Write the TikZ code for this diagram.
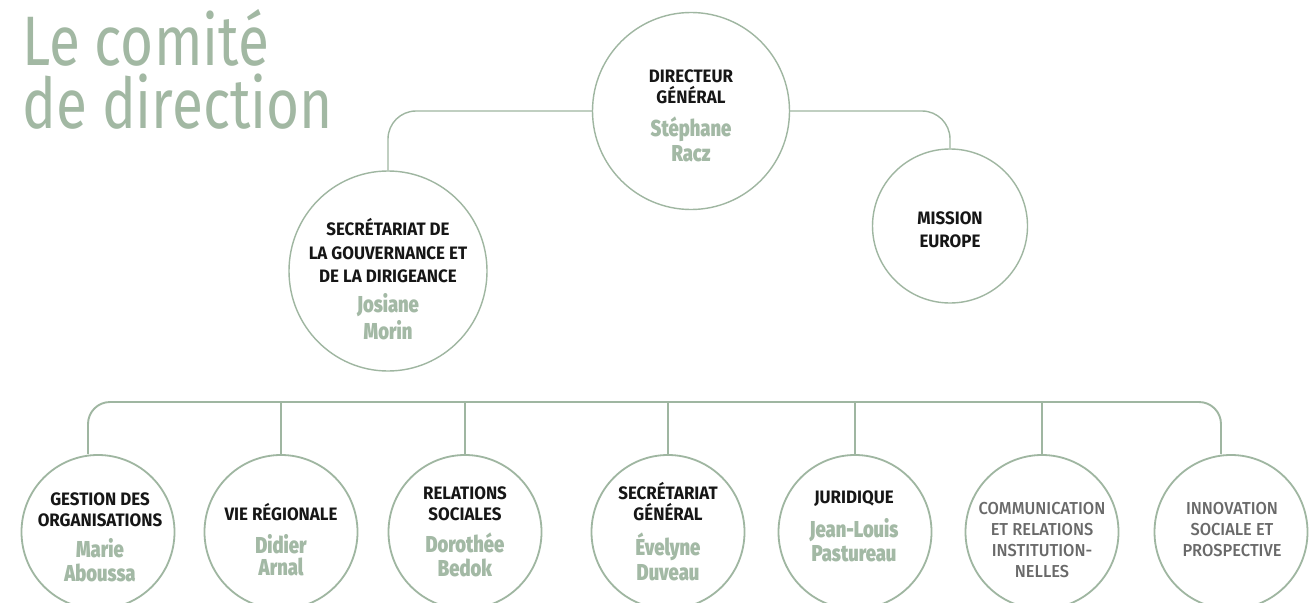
\documentclass[tikz,border=0pt]{standalone}
\usepackage{fontspec}
\usetikzlibrary{shapes.geometric}
\setmainfont{Fira Sans}
\newfontfamily\titlefam[FakeStretch=0.81]{Fira Sans}
\newfontfamily\labfam[FakeStretch=0.94]{Fira Sans Bold}
\newfontfamily\namefam[FakeStretch=0.80]{Fira Sans Black}
\newfontfamily\grayfam[FakeStretch=0.95]{Fira Sans Medium}
\definecolor{linegreen}{RGB}{159,182,161}
\definecolor{namegreen}{RGB}{163,185,165}
\definecolor{titlegreen}{RGB}{162,184,163}
\definecolor{labblack}{RGB}{22,22,22}
\definecolor{labgray}{RGB}{105,105,105}
\newcommand\nm[1]{{\namefam\fontsize{23}{24}\selectfont\color{namegreen}#1}}
\begin{document}
\begin{tikzpicture}[x=1pt,y=-1pt,
  circ/.style={draw=linegreen, ellipse, inner sep=0pt},
  topc/.style={circ, line width=1.4pt},
  botc/.style={circ, line width=1.8pt, minimum width=153pt, minimum height=154pt},
  conn/.style={draw=linegreen, line width=1.4pt},
  bus/.style={draw=linegreen, line width=1.9pt},
  txt/.style={align=center, inner sep=0pt, text=labblack, font={\labfam\fontsize{18}{21}\selectfont}},
  gtxt/.style={txt, text=labgray, font={\grayfam\fontsize{17.3}{21}\selectfont}},
]
\fill[white] (0,0) rectangle (1313,602);
\useasboundingbox (0,0) rectangle (1313,602);
\clip (0,0) rectangle (1313,602);

\node[anchor=base west, align=left, inner sep=0pt, text=titlegreen,
      font={\titlefam\fontsize{70}{63}\selectfont}] (title) at (22,128) {Le comité\\de direction};

% top level
\node[topc, minimum width=197pt, minimum height=197pt] (dg) at (691,111) {};
\node[txt] (dgt) at (691,116) {DIRECTEUR\\GÉNÉRAL\\[12pt]\nm{Stéphane}\\[3pt]\nm{Racz}};

\node[topc, minimum width=198pt, minimum height=200pt] (sgd) at (388,271) {};
\node[txt] (sgdt) at (388,279) {SECRÉTARIAT DE\\[2.5pt]LA GOUVERNANCE ET\\[2.5pt]DE LA DIRIGEANCE\\[9pt]\nm{Josiane}\\[2pt]\nm{Morin}};

\node[topc, minimum width=155pt, minimum height=154pt] (me) at (950,226) {};
\node[txt] (met) at (950,230) {MISSION\\[2pt]EUROPE};

\draw[conn, rounded corners=28pt] (dg.west) -| (sgd.north);
\draw[conn, rounded corners=28pt] (dg.east) -| (me.north);

% bottom level
\node[botc] (gest)  at (98,532)  {};
\node[botc] (vie)   at (281,532) {};
\node[botc] (rel)   at (465,532) {};
\node[botc] (sg)    at (668,532) {};
\node[botc] (jur)   at (855,532) {};
\node[botc] (comm)  at (1042,532) {};
\node[botc] (innov) at (1231,532) {};

\node[txt] (gestt) at (100,537) {GESTION DES\\ORGANISATIONS\\[10pt]\nm{Marie}\\[3pt]\nm{Aboussa}};
\node[txt] (viet)  at (281,540) {VIE RÉGIONALE\\[12pt]\nm{Didier}\\[1pt]\nm{Arnal}};
\node[txt] (relt)  at (465,532) {RELATIONS\\SOCIALES\\[11pt]\nm{Dorothée}\\[3pt]\nm{Bedok}};
\node[txt] (sgt)   at (668,532) {SECRÉTARIAT\\GÉNÉRAL\\[11pt]\nm{Évelyne}\\[3pt]\nm{Duveau}};
\node[txt] (jurt)  at (854,526) {JURIDIQUE\\[11pt]\nm{Jean-Louis}\\[3pt]\nm{Pastureau}};
\node[gtxt] (commt) at (1042,540) {COMMUNICATION\\ET RELATIONS\\INSTITUTION-\\NELLES};
\node[gtxt] (innovt) at (1232,530) {INNOVATION\\SOCIALE ET\\PROSPECTIVE};

\coordinate (busl) at (88,402);
\coordinate (busr) at (1221,402);
\draw[bus, rounded corners=22pt] (gest.north -| busl) -- (busl) -- (busr) -- (innov.north -| busr);
\foreach \n in {vie,rel,sg,jur,comm}
  \draw[bus] (\n.north) -- (\n.north |- busl);
\end{tikzpicture}
\end{document}
